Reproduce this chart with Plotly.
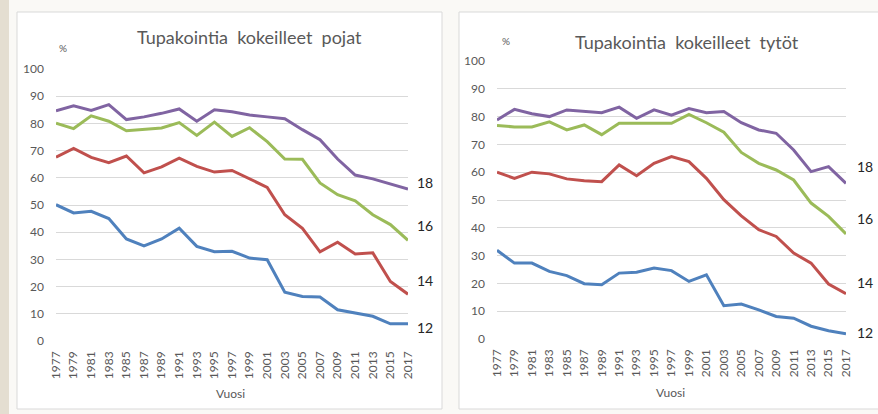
import plotly.graph_objects as go

years = list(range(1977, 2018, 2))
tick_labels = [str(y) for y in years]
age_labels = ["12", "14", "16", "18"]

boys_12 = [50.1, 47.1, 47.7, 45.0, 37.5, 35.0, 37.5, 41.5, 34.8, 32.8, 33.0, 30.5, 29.9, 17.9, 16.4, 16.2, 11.5, 10.3, 9.1, 6.3, 6.3]
boys_14 = [67.6, 70.8, 67.5, 65.6, 68.0, 61.8, 64.0, 67.2, 64.2, 62.1, 62.7, 59.7, 56.5, 46.4, 41.4, 32.8, 36.3, 32.0, 32.4, 21.9, 17.2]
boys_16 = [80.1, 78.1, 82.8, 80.8, 77.3, 77.8, 78.3, 80.3, 75.6, 80.5, 75.2, 78.4, 73.3, 66.9, 66.8, 58.1, 53.8, 51.5, 46.4, 42.8, 37.0]
boys_18 = [84.6, 86.5, 84.8, 86.9, 81.4, 82.4, 83.7, 85.3, 80.8, 85.0, 84.3, 83.1, 82.4, 81.7, 77.7, 74.0, 66.9, 61.0, 59.6, 57.8, 55.9]

girls_12 = [31.9, 27.3, 27.3, 24.3, 22.8, 19.9, 19.5, 23.7, 24.0, 25.5, 24.6, 20.7, 23.1, 12.0, 12.6, 10.5, 8.1, 7.5, 4.6, 3.0, 1.9]
girls_14 = [60.0, 57.8, 60.0, 59.4, 57.6, 56.9, 56.6, 62.6, 58.7, 63.2, 65.6, 63.8, 57.8, 50.1, 44.3, 39.3, 36.9, 30.9, 27.3, 19.8, 16.3]
girls_16 = [76.8, 76.3, 76.3, 78.1, 75.2, 77.0, 73.5, 77.6, 77.6, 77.6, 77.6, 80.8, 77.8, 74.4, 67.1, 63.2, 60.8, 57.2, 48.9, 44.1, 37.8]
girls_18 = [78.8, 82.6, 81.0, 80.0, 82.4, 81.8, 81.4, 83.4, 79.4, 82.4, 80.5, 82.9, 81.4, 81.8, 77.8, 75.2, 74.0, 68.0, 60.2, 62.0, 56.0]

# end-label vertical positions (in % units)
boys_label_y = [4.8, 22.4, 42.6, 58.1]
girls_label_y = [2.2, 20.5, 43.5, 62.2]

colors = ["#4F81BD", "#C0504D", "#9BBB59", "#8064A2"]
W, H = 878, 414
FONT = "Lato, 'Open Sans', sans-serif"
GRAY = "#595959"

def px(x):
    return x / W

def py(y):
    return 1 - y / H

fig = go.Figure()

boys = [boys_12, boys_14, boys_16, boys_18]
girls = [girls_12, girls_14, girls_16, girls_18]

for i, s in enumerate(boys):
    fig.add_trace(go.Scatter(x=years, y=s, mode="lines", line=dict(color=colors[i], width=3),
                             xaxis="x", yaxis="y", showlegend=False))
for i, s in enumerate(girls):
    fig.add_trace(go.Scatter(x=years, y=s, mode="lines", line=dict(color=colors[i], width=3),
                             xaxis="x2", yaxis="y2", showlegend=False))

axis_common = dict(
    tickmode="array", tickvals=years, ticktext=tick_labels, tickangle=-90,
    tickfont=dict(family=FONT, size=12, color=GRAY), showgrid=False, zeroline=False,
    showline=False, ticks="", range=[1977, 2017], fixedrange=True, automargin=False,
    ticklabelstandoff=7,
)
yaxis_common = dict(
    range=[0, 100], tickvals=list(range(0, 101, 10)),
    tickfont=dict(family=FONT, size=12, color=GRAY), showgrid=True, gridcolor="#D9D9D9",
    gridwidth=1, zeroline=False, showline=False, ticks="", fixedrange=True, automargin=False,
    ticklabelstandoff=11,
)

fig.update_layout(
    template="none",
    width=W, height=H, margin=dict(l=0, r=0, t=0, b=0, pad=0, autoexpand=False),
    paper_bgcolor="#FAF9F6", plot_bgcolor="rgba(0,0,0,0)",
    xaxis=dict(domain=[px(56), px(408)], anchor="y", **axis_common),
    yaxis=dict(domain=[py(341), py(69)], anchor="x", **yaxis_common),
    xaxis2=dict(domain=[px(497), px(846)], anchor="y2", **axis_common),
    yaxis2=dict(domain=[py(339), py(61)], anchor="x2", **yaxis_common),
)

shapes = [
    dict(type="rect", xref="paper", yref="paper", x0=0, x1=px(9), y0=0, y1=1,
         fillcolor="#E4DED1", line=dict(width=0), layer="below"),
    dict(type="rect", xref="paper", yref="paper", x0=px(17), x1=px(442), y0=py(409), y1=py(12),
         fillcolor="white", line=dict(color="#D9D9D9", width=1), layer="below"),
    dict(type="rect", xref="paper", yref="paper", x0=px(459), x1=px(880), y0=py(409), y1=py(12),
         fillcolor="white", line=dict(color="#D9D9D9", width=1), layer="below"),
]
fig.update_layout(shapes=shapes)

ann = []
def paper_text(text, x, y, size, color=GRAY):
    return dict(text=text, xref="paper", yref="paper", x=px(x), y=py(y), xanchor="center",
                yanchor="middle", showarrow=False, font=dict(family=FONT, size=size, color=color))

ann.append(paper_text("Tupakointia  kokeilleet  pojat", 249, 37, 18))
ann.append(paper_text("Tupakointia  kokeilleet  tytöt", 687, 42, 18))
ann.append(paper_text("%", 63, 48, 10))
ann.append(paper_text("%", 506, 41, 10))
ann.append(paper_text("Vuosi", 230, 393, 12))
ann.append(paper_text("Vuosi", 670, 392, 12))
for lab, yv in zip(age_labels, boys_label_y):
    ann.append(dict(text=lab, xref="x", yref="y", x=2017, y=yv, xanchor="left", xshift=7,
                    showarrow=False, font=dict(family=FONT, size=14, color="#262626")))
for lab, yv in zip(age_labels, girls_label_y):
    ann.append(dict(text=lab, xref="x2", yref="y2", x=2017, y=yv, xanchor="left", xshift=9,
                    showarrow=False, font=dict(family=FONT, size=14, color="#262626")))
fig.update_layout(annotations=ann)

fig.write_html("out.html", config={"displayModeBar": False},
               post_script="document.body.style.margin='0px';")
